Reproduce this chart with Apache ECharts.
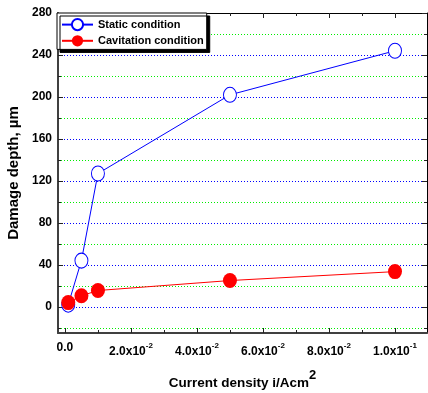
<!DOCTYPE html>
<html>
<head>
<meta charset="utf-8">
<script src="https://cdn.jsdelivr.net/npm/echarts@6/dist/echarts.min.js"></script>
<style>
html, body { margin: 0; padding: 0; background: #fff; }
#chart { width: 428px; height: 393px; }
</style>
</head>
<body>
<div id="chart"></div>
<script>
// data
const currentDensity = [0.001, 0.005, 0.01, 0.05, 0.1];
const staticDepth = [2, 44, 127, 202, 244];
const cavitationDepth = [4, 10.5, 15.5, 25, 33.5];

// ticks
const xMajorTicks = [0, 0.02, 0.04, 0.06, 0.08, 0.1];
const xMinorTicks = [0.01, 0.03, 0.05, 0.07, 0.09];
const xTickBase = ['0.0', '2.0x10', '4.0x10', '6.0x10', '8.0x10', '1.0x10'];
const xTickExp = ['', '-2', '-2', '-2', '-2', '-1'];
const yMajorTicks = [0, 40, 80, 120, 160, 200, 240, 280];
const yMinorTicks = [-20, 20, 60, 100, 140, 180, 220, 260];

const FONT = 'Arial, "Liberation Sans", sans-serif';
const X_RANGE = [-0.0021, 0.1097];
const Y_RANGE = [-25, 280];

let myChart = echarts.init(document.getElementById('chart'));

// helper for the tick-only axes (mirrored frame + minor ticks)
const tickAxis = (pos, range, ticks, len, showLine) => ({
    type: 'value',
    position: pos,
    min: range[0],
    max: range[1],
    axisLine: { show: showLine, onZero: false, lineStyle: { color: '#000', width: 1 } },
    axisTick: { show: true, inside: true, length: len, customValues: ticks, lineStyle: { color: '#222' } },
    axisLabel: { show: false },
    splitLine: { show: false }
});

const xLabelFormatter = (val) => {
    let i = xMajorTicks.findIndex(t => Math.abs(t - val) < 1e-9);
    if (i < 0) return '';
    return '{b|' + xTickBase[i] + '}' + (xTickExp[i] ? '{s|' + xTickExp[i] + '}' : '');
};

myChart.setOption({
    animation: false,
    backgroundColor: '#fff',
    grid: { left: 58, right: 1, top: 13, bottom: 60, outerBoundsMode: 'none' },
    legend: {
        left: 57,
        top: 13,
        orient: 'vertical',
        itemWidth: 31,
        itemHeight: 14,
        itemGap: 4,
        padding: [5, 3, 3, 4],
        backgroundColor: '#fff',
        borderColor: '#000',
        borderWidth: 1,
        shadowColor: '#000',
        shadowOffsetX: 3,
        shadowOffsetY: 3,
        shadowBlur: 0,
        textStyle: { fontFamily: FONT, fontWeight: 'bold', fontSize: 11, color: '#000' }
    },
    xAxis: [
        {
            type: 'value',
            position: 'bottom',
            min: X_RANGE[0],
            max: X_RANGE[1],
            name: '{n|Current density i/Acm}{s|2}',
            nameLocation: 'middle',
            nameGap: 36,
            nameTextStyle: {
                rich: {
                    n: { fontFamily: FONT, fontWeight: 'bold', fontSize: 13.5, color: '#000' },
                    s: { fontFamily: FONT, fontWeight: 'bold', fontSize: 13, color: '#000', padding: [0, 0, 16, 0] }
                }
            },
            axisLine: { show: true, onZero: false, lineStyle: { color: '#404040', width: 2 } },
            axisTick: { show: true, inside: true, length: 5, customValues: xMajorTicks, lineStyle: { color: '#222' } },
            axisLabel: {
                customValues: xMajorTicks,
                margin: 9,
                formatter: xLabelFormatter,
                rich: {
                    b: { fontFamily: FONT, fontWeight: 'bold', fontSize: 12, color: '#000' },
                    s: { fontFamily: FONT, fontWeight: 'bold', fontSize: 8, color: '#000', padding: [0, 0, 12, 0] }
                }
            },
            splitLine: { show: false }
        },
        tickAxis('bottom', X_RANGE, xMinorTicks, 3, false),
        tickAxis('top', X_RANGE, xMajorTicks, 5, true),
        tickAxis('top', X_RANGE, xMinorTicks, 3, false)
    ],
    yAxis: [
        {
            type: 'value',
            position: 'left',
            min: Y_RANGE[0],
            max: Y_RANGE[1],
            name: 'Damage depth, µm',
            nameLocation: 'middle',
            nameGap: 33,
            nameTextStyle: { fontFamily: FONT, fontWeight: 'bold', fontSize: 15, color: '#000' },
            axisLine: { show: true, onZero: false, lineStyle: { color: '#404040', width: 2 } },
            axisTick: { show: true, inside: true, length: 5, customValues: yMajorTicks, lineStyle: { color: '#222' } },
            axisLabel: {
                customValues: yMajorTicks,
                margin: 6,
                fontFamily: FONT, fontWeight: 'bold', fontSize: 12, color: '#000'
            },
            splitLine: { show: true, lineStyle: { color: '#0000ff', width: 1, type: [1, 2] } }
        },
        {
            type: 'value',
            position: 'left',
            min: Y_RANGE[0],
            max: Y_RANGE[1],
            axisLine: { show: false, onZero: false },
            axisTick: { show: true, inside: true, length: 3, customValues: yMinorTicks, lineStyle: { color: '#222' } },
            axisLabel: { show: false },
            splitLine: { show: true, lineStyle: { color: '#00ee00', width: 1, type: [1, 2] } }
        },
        tickAxis('right', Y_RANGE, yMajorTicks, 5, true),
        tickAxis('right', Y_RANGE, yMinorTicks, 3, false)
    ],
    series: [
        {
            name: 'Static condition',
            type: 'line',
            xAxisIndex: 0,
            yAxisIndex: 0,
            data: currentDensity.map((x, i) => [x, staticDepth[i]]),
            symbol: 'circle',
            symbolSize: [13, 15],
            itemStyle: { color: '#fff', borderColor: '#0000ff', borderWidth: 1 },
            lineStyle: { color: '#0000ff', width: 1 }
        },
        {
            name: 'Cavitation condition',
            type: 'line',
            xAxisIndex: 0,
            yAxisIndex: 0,
            data: currentDensity.map((x, i) => [x, cavitationDepth[i]]),
            symbol: 'circle',
            symbolSize: [14, 15],
            itemStyle: { color: '#ff0000', borderColor: '#ff0000', borderWidth: 0 },
            lineStyle: { color: '#ff0000', width: 1 }
        }
    ]
});

window.addEventListener('resize', () => myChart.resize());
</script>
</body>
</html>
